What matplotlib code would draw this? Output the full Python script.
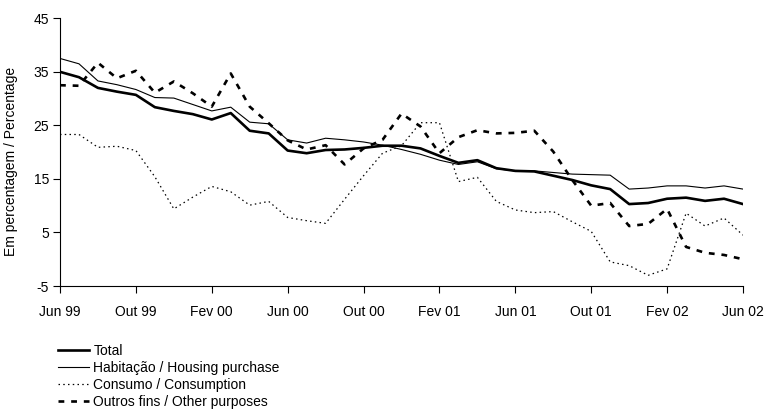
import numpy as np
import matplotlib
matplotlib.use('Agg')
import matplotlib.pyplot as plt

plt.rcParams['font.family'] = ['Liberation Sans', 'DejaVu Sans']
plt.rcParams['font.size'] = 10
plt.rcParams['axes.unicode_minus'] = False

# monthly observations, Jun 99 .. Jun 02
months = np.arange(37)
tick_pos = [0, 4, 8, 12, 16, 20, 24, 28, 32, 36]
tick_labels = ['Jun 99', 'Out 99', 'Fev 00', 'Jun 00', 'Out 00',
               'Fev 01', 'Jun 01', 'Out 01', 'Fev 02', 'Jun 02']

total = [35.0, 34.0, 32.0, 31.3, 30.7, 28.4, 27.7, 27.1, 26.1, 27.3,
         24.0, 23.5, 20.3, 19.8, 20.4, 20.5, 20.8, 21.2, 21.2, 20.7,
         19.3, 18.0, 18.5, 17.0, 16.5, 16.4, 15.6, 14.8, 13.8, 13.1,
         10.3, 10.5, 11.3, 11.5, 10.9, 11.3, 10.3]
habitacao = [37.5, 36.5, 33.3, 32.6, 31.7, 30.2, 30.1, 28.9, 27.7, 28.4,
             25.6, 25.3, 22.3, 21.7, 22.6, 22.3, 21.9, 21.3, 20.5, 19.6,
             18.5, 17.7, 18.2, 16.9, 16.5, 16.5, 16.2, 15.9, 15.8, 15.7,
             13.1, 13.3, 13.7, 13.7, 13.3, 13.7, 13.1]
consumo = [23.3, 23.3, 20.9, 21.1, 20.3, 15.4, 9.4, 11.6, 13.6, 12.6,
           10.1, 10.8, 7.8, 7.2, 6.7, 11.2, 15.6, 19.8, 21.2, 25.5,
           25.5, 14.5, 15.3, 10.8, 9.2, 8.7, 8.9, 7.0, 5.2, -0.5,
           -1.2, -3.0, -1.8, 8.6, 6.2, 7.7, 4.5]
outros = [32.5, 32.4, 36.7, 33.8, 35.2, 31.1, 33.2, 31.0, 28.5, 34.7,
          28.5, 25.4, 22.2, 20.5, 21.3, 17.7, 20.7, 22.3, 27.2, 24.8,
          19.8, 22.8, 24.1, 23.5, 23.6, 24.0, 20.1, 14.8, 10.0, 10.5,
          6.2, 6.6, 9.4, 2.3, 1.2, 0.8, 0.0]

fig = plt.figure(figsize=(7.64, 4.12), dpi=100)
ax = fig.add_axes([60/764, 1 - 286/412, 683/764, (286 - 18.3)/412])

ax.plot(months, total, color='black', lw=1.9, label='Total')
ax.plot(months, habitacao, color='black', lw=0.8, label='Habitação / Housing purchase')
ax.plot(months, consumo, color='black', lw=0.9, dashes=(1.2, 2.6),
        label='Consumo / Consumption')
ax.plot(months, outros, color='black', lw=1.9, dashes=(2.2, 2.6),
        label='Outros fins / Other purposes')

ax.set_xlim(0, 36)
ax.set_ylim(-5, 45)
ax.set_yticks([-5, 5, 15, 25, 35, 45])
ax.set_xticks(tick_pos)
ax.set_xticklabels(tick_labels)
ax.tick_params(axis='x', direction='out', length=5, width=0.8, pad=9)
ax.tick_params(axis='y', direction='out', length=5, width=0.8, pad=3)
for s in ['top', 'right']:
    ax.spines[s].set_visible(False)
for s in ['left', 'bottom']:
    ax.spines[s].set_linewidth(0.8)

ax.set_ylabel('Em percentagem / Percentage')
ax.yaxis.set_label_coords(-0.062, 0.467)

fig.legend(loc='upper left', bbox_to_anchor=(58/764, 1 - 344/412),
           frameon=False, borderpad=0, borderaxespad=0,
           handlelength=2.2, handletextpad=0.35, labelspacing=0.22)

fig.savefig('out.png', dpi=100)
